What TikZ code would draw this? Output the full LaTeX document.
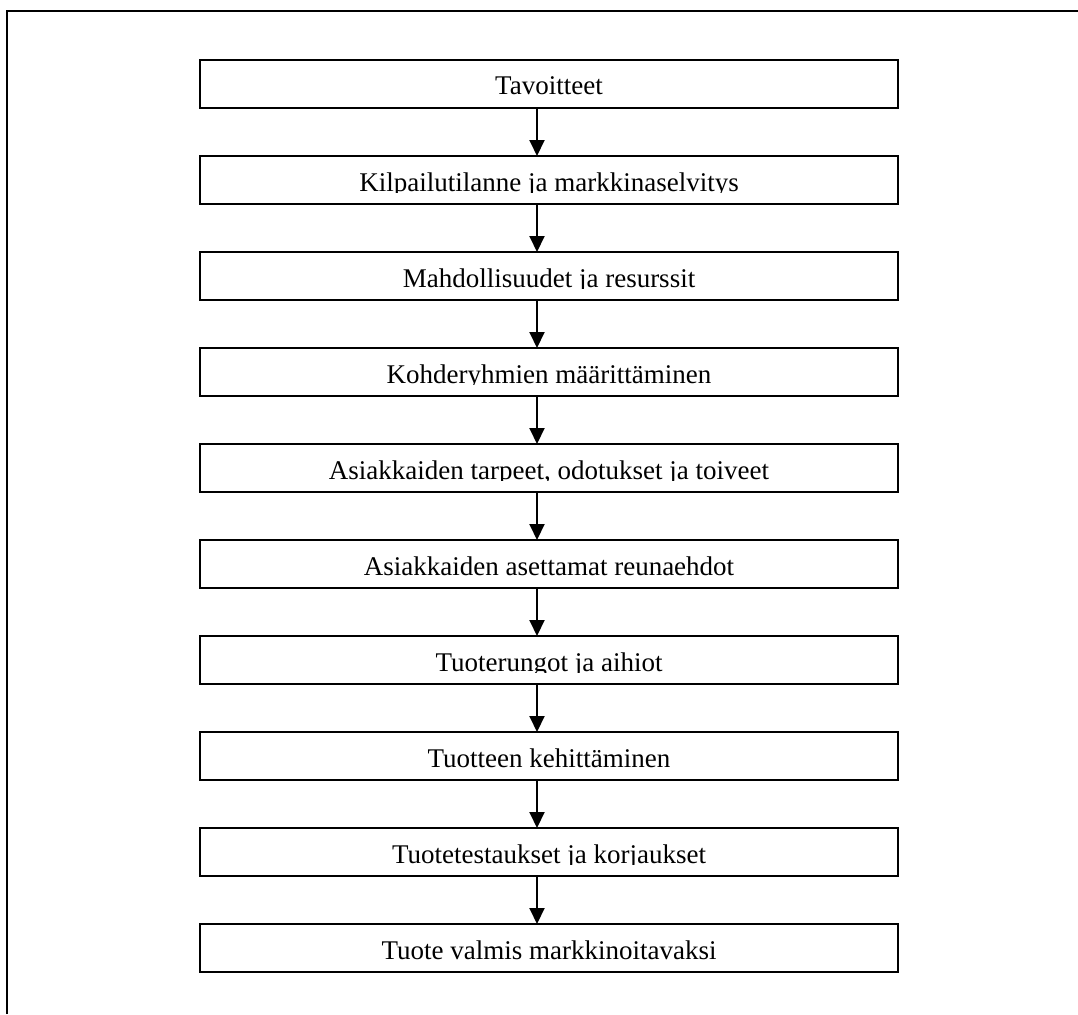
\documentclass[tikz,border=0pt]{standalone}
\usepackage{fontspec}
\setmainfont{Liberation Serif}
\usepackage{tikz}
\usetikzlibrary{positioning,arrows.meta}

\tikzset{
  vaihe/.style={draw,rectangle,line width=2pt,minimum width=698pt,minimum height=48pt,
    inner sep=0pt,outer sep=0pt,text height=22pt,text depth=0pt,
    font=\fontsize{27}{32}\selectfont},
  nuoli/.style={-{Triangle[length=16pt,width=15pt]},line width=2pt}
}

\begin{document}
\begin{tikzpicture}[x=1pt,y=-1pt,node distance=48pt]
\useasboundingbox (0,0) rectangle (1078,1014);
% kehys
\draw[line width=2.5pt] (7,1014) -- (7,11) -- (1078,11);
% vaiheet
\node[vaihe] (v1) at (549,84) {Tavoitteet};
\node[vaihe,below=of v1] (v2) {Kilpailutilanne ja markkinaselvitys};
\node[vaihe,below=of v2] (v3) {Mahdollisuudet ja resurssit};
\node[vaihe,below=of v3] (v4) {Kohderyhmien määrittäminen};
\node[vaihe,below=of v4] (v5) {Asiakkaiden tarpeet, odotukset ja toiveet};
\node[vaihe,below=of v5] (v6) {Asiakkaiden asettamat reunaehdot};
\node[vaihe,below=of v6] (v7) {Tuoterungot ja aihiot};
\node[vaihe,below=of v7] (v8) {Tuotteen kehittäminen};
\node[vaihe,below=of v8] (v9) {Tuotetestaukset ja korjaukset};
\node[vaihe,below=of v9] (v10) {Tuote valmis markkinoitavaksi};
% tekstit leikkautuvat laatikon alareunassa
\foreach \i in {1,...,10}
  \fill[white] ([xshift=2pt,yshift=1pt]v\i.south west) rectangle ([xshift=-2pt,yshift=11pt]v\i.south east);
% nuolet
\foreach \a/\b in {v1/v2,v2/v3,v3/v4,v4/v5,v5/v6,v6/v7,v7/v8,v8/v9,v9/v10}
  \draw[nuoli] ([xshift=-12pt]\a.south) -- ([xshift=-12pt]\b.north);
\end{tikzpicture}
\end{document}
